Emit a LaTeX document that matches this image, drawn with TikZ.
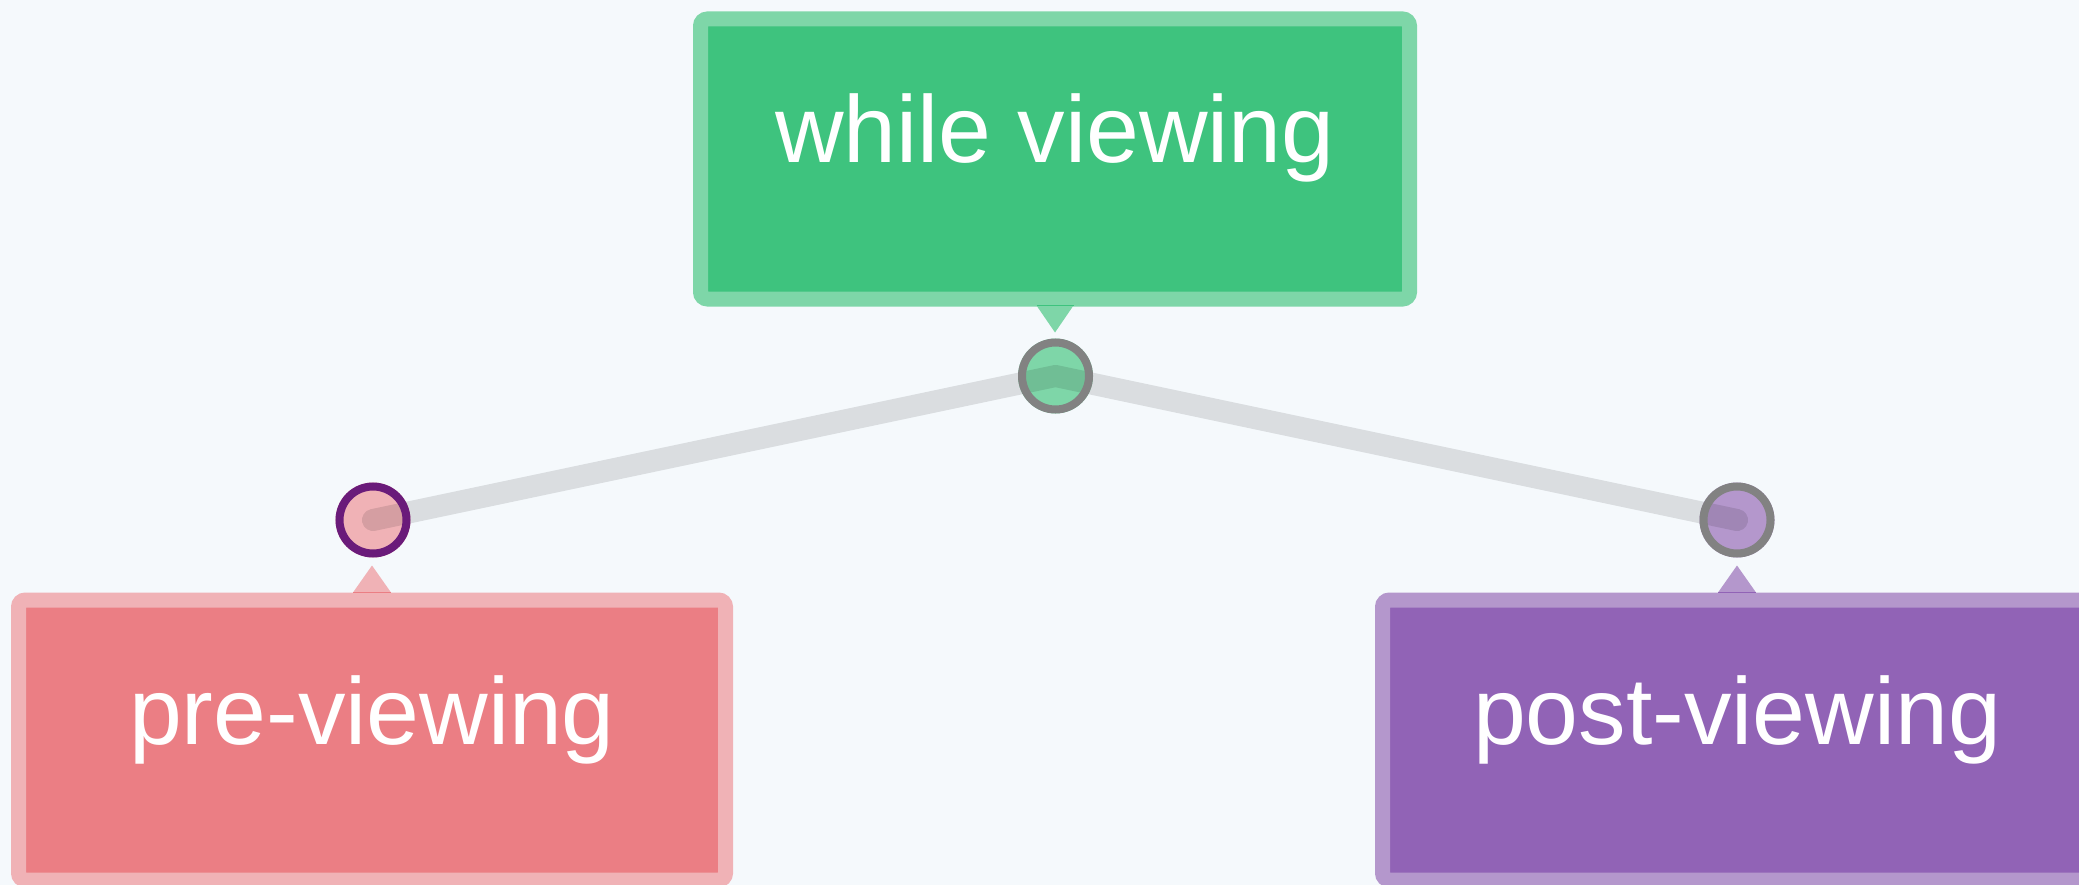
\documentclass[tikz,border=0pt]{standalone}
\usepackage{fontspec}
\setmainfont{Liberation Sans}
\definecolor{bg}{HTML}{F5F9FC}
\definecolor{greenL}{HTML}{7ED6A8}
\definecolor{greenD}{HTML}{3EC37E}
\definecolor{pinkL}{HTML}{F0B2B6}
\definecolor{pinkD}{HTML}{EB7E84}
\definecolor{purpL}{HTML}{B497CC}
\definecolor{purpD}{HTML}{9163B6}
\definecolor{ringgray}{HTML}{828282}
\definecolor{ringpurp}{HTML}{6A1B7A}
\tikzset{
  box/.style={rectangle, line width=15pt, rounded corners=7pt, minimum width=709pt,
    minimum height=280pt, inner sep=0pt, text=white, font=\fontsize{95}{100}\selectfont,
    text height=60pt, text depth=52pt},
  dot/.style={circle, minimum size=75pt, inner sep=0pt, outer sep=0pt},
  ring/.style={line width=8pt},
  link/.style={line width=22pt, line cap=round, line join=round, draw=black, draw opacity=0.11}
}
\begin{document}
\begin{tikzpicture}[x=1pt,y=-1pt]
\fill[bg] (0,0) rectangle (2079,885);
\useasboundingbox (0,0) rectangle (2079,885);
% boxes
\node[box, draw=greenL, fill=greenD] (while) at (1055,159) {while viewing};
\node[box, draw=pinkL, fill=pinkD, minimum width=707pt] (pre) at (372,740) {pre-viewing};
\node[box, draw=purpL, fill=purpD] (post) at (1737,740) {post-viewing};
% pointers
\fill[greenL] ([xshift=-18.5pt,yshift=1pt]while.south) -- ([xshift=18.5pt,yshift=1pt]while.south) -- ([yshift=-26pt]while.south) -- cycle;
\draw[greenD, line width=1.5pt] ([xshift=-18.5pt,yshift=1pt]while.south) -- ([xshift=18.5pt,yshift=1pt]while.south);
\fill[pinkL] ([xshift=-19pt]pre.north) -- ([xshift=19pt]pre.north) -- ([yshift=27pt]pre.north) -- cycle;
\draw[pinkD, line width=1.5pt] ([xshift=-19pt]pre.north) -- ([xshift=19pt]pre.north);
\fill[purpL] ([xshift=-19pt]post.north) -- ([xshift=19pt]post.north) -- ([yshift=27pt]post.north) -- cycle;
\draw[purpD, line width=1.5pt] ([xshift=-19pt]post.north) -- ([xshift=19pt]post.north);
% circles
\node[dot, fill=greenL] (mid) at (1055.5,376) {};
\node[dot, fill=pinkL] (left) at (373,520) {};
\node[dot, fill=purpL] (right) at (1737,520) {};
% connectors
\draw[link] (left.center) -- (mid.center) -- (right.center);
% rings
\draw[ring, ringgray] (mid.center) circle[radius=33.5pt];
\draw[ring, ringpurp] (left.center) circle[radius=33.5pt];
\draw[ring, ringgray] (right.center) circle[radius=33.5pt];
\end{tikzpicture}
\end{document}
